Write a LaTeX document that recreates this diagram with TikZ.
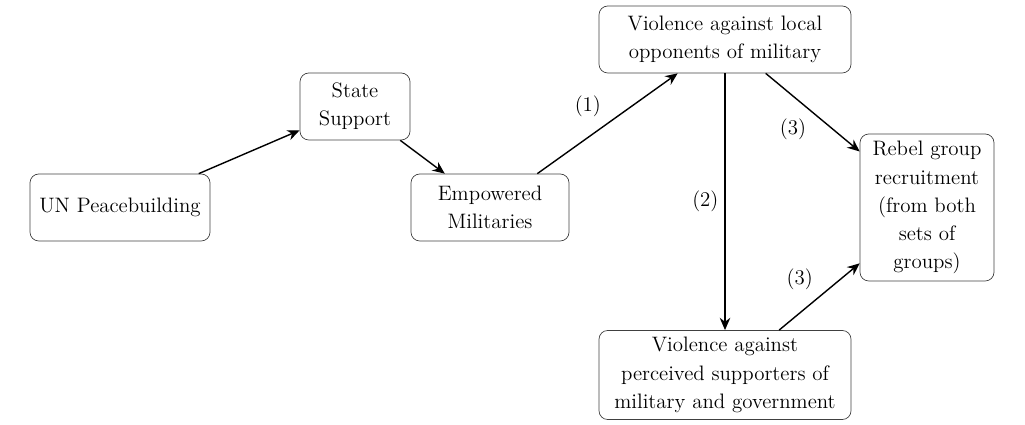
\documentclass[tikz,border=0pt]{standalone}
\usetikzlibrary{arrows.meta,positioning}
\tikzset{
  box/.style={draw=black!75,rounded corners=5pt,align=center,
    font=\fontsize{11.9}{16}\selectfont,inner sep=4pt},
  arrow/.style={-{Stealth[length=7pt,width=6pt]},thick},
  lbl/.style={font=\fontsize{11.9}{16}\selectfont}
}
\begin{document}
\begin{tikzpicture}
  \useasboundingbox (0,0) rectangle (20.5,-8.5);
  % boxes
  \node[box,minimum width=3.6cm,minimum height=1.34cm] (un) at (2.40,-4.15) {UN Peacebuilding};
  \node[box,minimum width=2.2cm,minimum height=1.34cm] (state) at (7.10,-2.13) {State\\Support};
  \node[box,minimum width=3.16cm,minimum height=1.34cm] (mil) at (9.80,-4.15) {Empowered\\Militaries};
  \node[box,minimum width=5.04cm,minimum height=1.34cm] (local) at (14.50,-0.79) {Violence against local\\opponents of military};
  \node[box,minimum width=2.68cm,minimum height=2.94cm] (rebel) at (18.54,-4.15) {Rebel group\\recruitment\\(from both\\sets of\\groups)};
  \node[box,minimum width=5.04cm,minimum height=1.76cm] (supp) at (14.50,-7.50) {Violence against\\perceived supporters of\\military and government};
  % connectors
  \draw[arrow] (un) -- (state);
  \draw[arrow] (state) -- (mil);
  \draw[arrow] (mil) -- node[lbl,midway,above left] {(1)} (local);
  \draw[arrow] (local) -- node[lbl,midway,left] {(2)} (supp);
  \draw[arrow] (local) -- node[lbl,midway,below left] {(3)} (rebel);
  \draw[arrow] (supp) -- node[lbl,midway,above left] {(3)} (rebel);
\end{tikzpicture}
\end{document}
